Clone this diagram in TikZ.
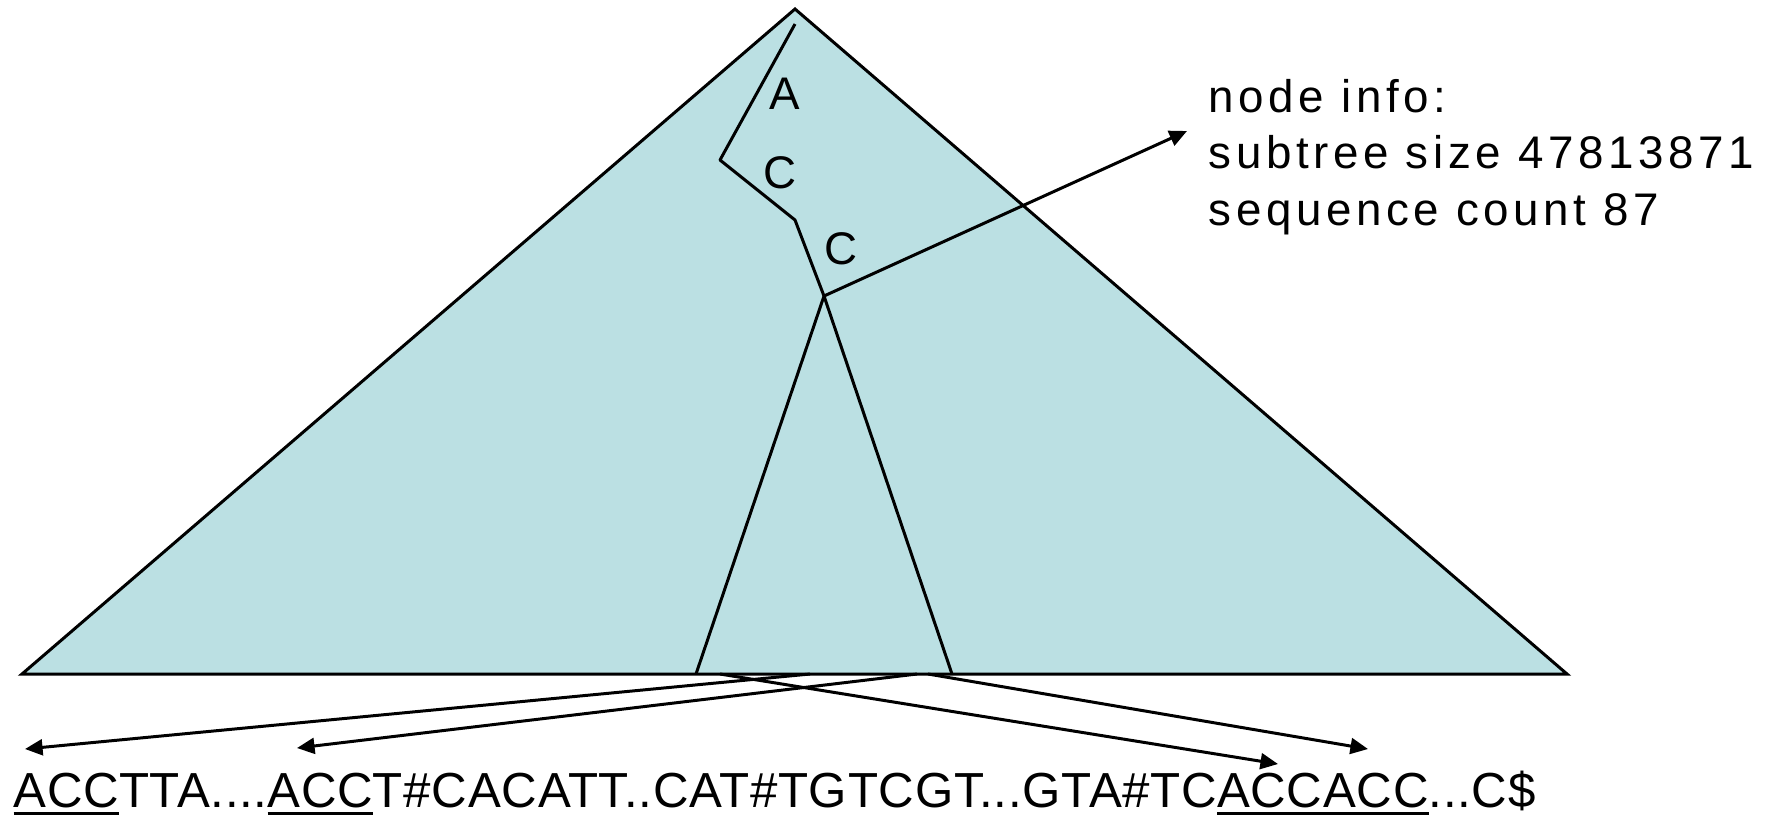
\documentclass[tikz,border=0pt]{standalone}
\usepackage{fontspec}
\setmainfont{Liberation Sans}
\newfontfamily\infofont[LetterSpace=10]{Liberation Sans}
\newfontfamily\seqfont[LetterSpace=1.5]{Liberation Sans}
\usepackage{tikz}
\usetikzlibrary{arrows.meta}
\definecolor{treefill}{HTML}{BBE0E3}
\newcommand{\seqmatch}[1]{\setbox0\hbox{#1}\rlap{\rule[-2.3pt]{\wd0}{0.9pt}}\box0}

\begin{document}
\begin{tikzpicture}[x=0.01cm, y=-0.01cm,
    tree/.style={draw=black, line width=0.85pt, fill=treefill, line join=miter},
    walk/.style={draw=black, line width=0.85pt, line join=round},
    edgelabel/.style={font=\fontsize{13}{16}\selectfont, inner sep=0pt},
    infotext/.style={font=\infofont\fontsize{13}{16}\selectfont,
      inner sep=0pt, anchor=base west},
    seqtext/.style={font=\seqfont\fontsize{14}{17}\selectfont,
      inner sep=0pt, anchor=base west},
    arrow/.style={-{Triangle[length=5pt, width=4.5pt]}, line width=0.85pt},
]
\useasboundingbox (0,0) rectangle (1773,814);
% Tree
\coordinate (apex)  at (795,9);
\coordinate (baseL) at (22,674);
\coordinate (baseR) at (1567,674);
\draw[tree] (apex) -- (baseR) -- (baseL) -- cycle;
% Search path
\coordinate (root) at (795,24);
\coordinate (stepA) at (720,160);
\coordinate (stepC) at (795,220);
\coordinate (hit) at (824,296);
\coordinate (subL) at (696,674);
\coordinate (subR) at (952,674);
\draw[walk] (root) -- (stepA) -- (stepC) -- (hit);
\draw[walk] (subL) -- (hit) -- (subR);
\node[edgelabel] (labA)  at (785,94)  {A};
\node[edgelabel] (labC1) at (780,173) {C};
\node[edgelabel] (labC2) at (841,249) {C};
% Node info
\coordinate (infotip) at (1187,131);
\node[infotext] (infohead) at (1208,112) {node info:};
\node[infotext] (infosize) at (1208,168) {subtree size 47813871};
\node[infotext] (infocount) at (1208,225) {sequence count 87};
\draw[arrow] (hit) -- (infotip);
% Text
\node[seqtext] (seq) at (13,807)
    {\seqmatch{ACC}TTA....\seqmatch{ACC}T\#CACATT..CAT\#TGTCGT...GTA\#TC\seqmatch{ACCACC}...C\$};
% Arrows
\coordinate (leafA) at (810,674);
\coordinate (leafB) at (917,674);
\coordinate (leafC) at (720,674);
\coordinate (leafD) at (928,674);
\coordinate (posA) at (25,749);
\coordinate (posB) at (297,748);
\coordinate (posC) at (1278,764);
\coordinate (posD) at (1368,749);
\draw[arrow] (leafA) -- (posA);
\draw[arrow] (leafB) -- (posB);
\draw[arrow] (leafC) -- (posC);
\draw[arrow] (leafD) -- (posD);
\end{tikzpicture}
\end{document}
